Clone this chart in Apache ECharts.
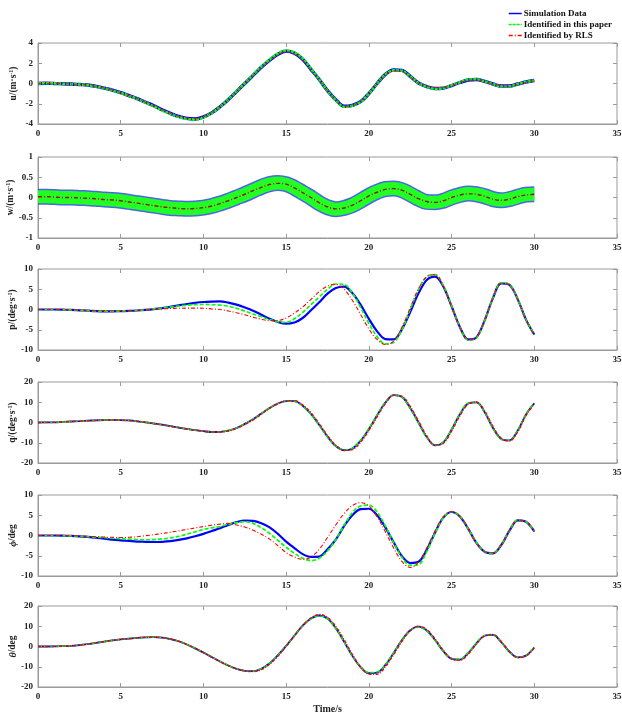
<!DOCTYPE html>
<html>
<head>
<meta charset="utf-8">
<script src="https://cdn.jsdelivr.net/npm/echarts@6/dist/echarts.min.js"></script>
<style>
  html, body { margin: 0; padding: 0; background: #fff; }
  #main { width: 622px; height: 713px; }
</style>
</head>
<body>
<div id="main"></div>
<script>
// time samples (s)
const T = [0, 0.5, 1, 1.5, 2, 2.5, 3, 3.5, 4, 4.5,
  5, 5.5, 6, 6.5, 7, 7.5, 8, 8.5, 9, 9.5,
  10, 10.5, 11, 11.5, 12, 12.5, 13, 13.5, 14, 14.5,
  15, 15.5, 16, 16.5, 17, 17.5, 18, 18.5, 19, 19.5,
  20, 20.5, 21, 21.5, 22, 22.5, 23, 23.5, 24, 24.5,
  25, 25.5, 26, 26.5, 27, 27.5, 28, 28.5, 29, 29.5,
  30];

// u
const uSim = [0, 0.02, 0, -0.02, -0.05, -0.1, -0.15, -0.28, -0.45, -0.65,
  -0.9, -1.2, -1.5, -1.85, -2.2, -2.6, -2.95, -3.25, -3.45, -3.5,
  -3.3, -2.9, -2.3, -1.6, -0.8, 0, 0.8, 1.6, 2.3, 2.9,
  3.2, 3.0, 2.4, 1.4, 0.4, -0.7, -1.6, -2.25, -2.15, -1.8,
  -1.0, 0, 0.9, 1.35, 1.3, 0.7, 0.05, -0.3, -0.5, -0.45,
  -0.2, 0.1, 0.35, 0.4, 0.2, -0.05, -0.25, -0.25, -0.05, 0.15,
  0.3];
const uPaper = [0, 0.03, 0.01, -0.02, -0.06, -0.1, -0.16, -0.3, -0.47, -0.68,
  -0.92, -1.22, -1.52, -1.88, -2.25, -2.65, -3.0, -3.3, -3.5, -3.55,
  -3.35, -2.92, -2.3, -1.58, -0.78, 0.02, 0.85, 1.65, 2.35, 2.95,
  3.25, 3.05, 2.45, 1.45, 0.4, -0.72, -1.65, -2.3, -2.2, -1.8,
  -1.0, 0, 0.9, 1.3, 1.25, 0.7, 0.05, -0.32, -0.52, -0.45,
  -0.18, 0.12, 0.38, 0.42, 0.2, -0.06, -0.27, -0.27, -0.05, 0.15,
  0.3];
const uRls = [0, 0.01, 0, -0.02, -0.05, -0.1, -0.15, -0.28, -0.45, -0.65,
  -0.9, -1.2, -1.5, -1.85, -2.2, -2.6, -2.95, -3.25, -3.42, -3.45,
  -3.28, -2.88, -2.3, -1.6, -0.8, 0, 0.8, 1.58, 2.28, 2.85,
  3.15, 2.95, 2.35, 1.35, 0.35, -0.75, -1.65, -2.25, -2.2, -1.75,
  -0.95, 0, 0.85, 1.25, 1.2, 0.65, 0.05, -0.25, -0.4, -0.4,
  -0.2, 0.1, 0.3, 0.35, 0.2, -0.05, -0.2, -0.25, -0.05, 0.1,
  0.25];

// w
const wSim = [0.02, 0.02, 0.01, 0, 0, -0.01, -0.02, -0.03, -0.05, -0.06,
  -0.08, -0.11, -0.14, -0.17, -0.2, -0.23, -0.26, -0.27, -0.28, -0.27,
  -0.25, -0.21, -0.15, -0.08, 0, 0.08, 0.17, 0.26, 0.33, 0.36,
  0.33, 0.24, 0.12, 0, -0.14, -0.24, -0.29, -0.26, -0.19, -0.08,
  0.04, 0.14, 0.21, 0.22, 0.18, 0.08, -0.03, -0.11, -0.12, -0.08,
  0, 0.06, 0.1, 0.08, 0.03, -0.04, -0.07, -0.04, 0.02, 0.07,
  0.08];
const wPaper = [0.02, 0.02, 0.01, 0, 0, -0.01, -0.02, -0.03, -0.05, -0.06,
  -0.08, -0.11, -0.14, -0.17, -0.2, -0.23, -0.26, -0.27, -0.28, -0.27,
  -0.25, -0.21, -0.15, -0.08, 0, 0.08, 0.17, 0.26, 0.33, 0.36,
  0.33, 0.24, 0.12, 0, -0.14, -0.24, -0.29, -0.26, -0.19, -0.08,
  0.04, 0.14, 0.21, 0.22, 0.18, 0.08, -0.03, -0.11, -0.12, -0.08,
  0, 0.06, 0.1, 0.08, 0.03, -0.04, -0.07, -0.04, 0.02, 0.07,
  0.08];
const wRls = [0.02, 0.02, 0.01, 0, 0, -0.01, -0.02, -0.03, -0.05, -0.06,
  -0.08, -0.11, -0.14, -0.17, -0.2, -0.23, -0.25, -0.27, -0.28, -0.27,
  -0.25, -0.21, -0.15, -0.08, 0, 0.08, 0.17, 0.25, 0.32, 0.35,
  0.33, 0.24, 0.12, 0, -0.13, -0.23, -0.28, -0.26, -0.19, -0.08,
  0.04, 0.13, 0.2, 0.22, 0.18, 0.08, -0.03, -0.1, -0.12, -0.08,
  0, 0.06, 0.09, 0.08, 0.03, -0.04, -0.07, -0.04, 0.02, 0.06,
  0.08];

// p
const pSim = [0, 0, 0, -0.05, -0.1, -0.2, -0.3, -0.4, -0.45, -0.45,
  -0.4, -0.35, -0.25, -0.1, 0.1, 0.35, 0.65, 1.0, 1.35, 1.65,
  1.85, 1.95, 2.0, 1.7, 1.2, 0.5, -0.3, -1.3, -2.3, -3.1,
  -3.5, -3.2, -2.1, -0.2, 1.8, 3.9, 5.3, 5.65, 4.1, 1.2,
  -2.3, -5.4, -7.3, -7.4, -4.9, -0.6, 4.0, 7.3, 8.1, 5.7,
  0.8, -4.3, -7.4, -6.9, -2.7, 2.8, 6.45, 6.1, 2.5, -2.5,
  -6.2];
const pPaper = [0, 0, 0, -0.05, -0.1, -0.2, -0.3, -0.35, -0.4, -0.4,
  -0.35, -0.3, -0.2, -0.05, 0.15, 0.35, 0.6, 0.85, 1.05, 1.2,
  1.25, 1.2, 1.1, 0.8, 0.3, -0.4, -1.1, -1.8, -2.5, -3.0,
  -3.2, -2.3, -0.7, 1.2, 3.1, 5.0, 6.3, 6.2, 4.1, 0.5,
  -3.4, -6.7, -8.5, -8.1, -5.0, 0, 4.9, 8.1, 8.6, 5.9,
  0.9, -4.3, -7.5, -7.0, -2.8, 2.9, 6.6, 6.2, 2.5, -2.5,
  -6.2];
const pRls = [0, 0, 0, -0.03, -0.07, -0.12, -0.18, -0.23, -0.27, -0.3,
  -0.3, -0.27, -0.2, -0.1, 0.05, 0.15, 0.25, 0.3, 0.35, 0.35,
  0.3, 0.15, 0, -0.35, -0.8, -1.3, -1.9, -2.4, -2.75, -2.7,
  -2.1, -0.9, 0.6, 2.5, 4.4, 5.8, 6.2, 5.0, 2.3, -1.2,
  -4.8, -7.4, -8.65, -7.8, -4.4, 0.4, 5.1, 8.1, 8.6, 5.8,
  0.8, -4.4, -7.5, -6.9, -2.7, 2.9, 6.5, 6.1, 2.4, -2.6,
  -6.3];

// q
const qSim = [0, 0.05, 0.1, 0.3, 0.5, 0.7, 0.9, 1.05, 1.2, 1.25,
  1.2, 1.0, 0.6, 0.1, -0.5, -1.1, -1.8, -2.5, -3.2, -3.8,
  -4.3, -4.7, -4.6, -4.0, -2.7, -0.7, 1.6, 4.4, 7.2, 9.4,
  10.6, 10.6, 8.3, 4.2, -1.2, -7.0, -11.6, -13.7, -12.9, -9.0,
  -3.2, 3.6, 9.9, 13.5, 12.6, 7.2, 0, -7.2, -11.3, -9.8,
  -3.5, 4.1, 9.4, 9.9, 5.1, -2.7, -8.1, -8.8, -4.0, 4.0,
  9.5];
const qPaper = [0, 0.05, 0.1, 0.3, 0.5, 0.7, 0.9, 1.05, 1.2, 1.25,
  1.2, 1.0, 0.6, 0.1, -0.5, -1.1, -1.8, -2.5, -3.2, -3.8,
  -4.3, -4.7, -4.6, -4.0, -2.7, -0.7, 1.6, 4.4, 7.2, 9.3,
  10.5, 10.4, 8.1, 4.0, -1.4, -7.1, -11.6, -13.5, -12.7, -8.8,
  -3.0, 3.7, 10.0, 13.5, 12.5, 7.0, -0.2, -7.3, -11.3, -9.7,
  -3.4, 4.2, 9.5, 9.9, 5.0, -2.8, -8.2, -8.8, -3.9, 4.1,
  9.5];
const qRls = [0, 0.05, 0.1, 0.3, 0.5, 0.7, 0.9, 1.05, 1.2, 1.25,
  1.2, 1.0, 0.6, 0.1, -0.5, -1.1, -1.8, -2.5, -3.2, -3.8,
  -4.3, -4.7, -4.7, -4.2, -3.0, -1.0, 1.3, 4.1, 7.0, 9.3,
  10.7, 10.8, 8.7, 4.8, -0.6, -6.4, -11.2, -13.7, -13.4, -9.8,
  -4.0, 2.8, 9.3, 13.4, 13.0, 7.9, 0.8, -6.6, -11.1, -10.3,
  -4.3, 3.3, 9.0, 10.1, 5.8, -2.0, -7.8, -9.1, -4.6, 3.4,
  9.2];

// phi
const phiSim = [0, 0, 0, -0.05, -0.1, -0.2, -0.35, -0.55, -0.8, -1.0,
  -1.2, -1.35, -1.5, -1.55, -1.6, -1.55, -1.4, -1.1, -0.7, -0.2,
  0.4, 1.1, 1.8, 2.6, 3.3, 3.7, 3.6, 3.0, 2.0, 0.4,
  -1.5, -3.1, -4.6, -5.3, -5.2, -3.4, -1.0, 2.3, 5.0, 6.5,
  6.6, 5.0, 2.0, -1.7, -5.1, -6.8, -6.5, -3.5, 0.7, 4.4,
  5.8, 4.7, 1.7, -1.8, -4.0, -4.4, -2.4, 1.2, 3.75, 3.4,
  1.0];
const phiPaper = [0, 0, 0, -0.05, -0.1, -0.18, -0.28, -0.4, -0.5, -0.65,
  -0.8, -0.9, -1.0, -1.05, -1.0, -0.85, -0.6, -0.2, 0.3, 0.9,
  1.5, 1.9, 2.2, 2.8, 3.2, 3.4, 3.0, 1.9, 0.5, -1.2,
  -2.9, -4.4, -5.6, -6.2, -5.6, -3.8, -1.0, 2.5, 5.6, 7.3,
  7.5, 5.8, 2.3, -1.8, -5.4, -7.4, -7.2, -4.0, 0.6, 4.4,
  5.9, 4.8, 1.7, -1.8, -4.0, -4.4, -2.3, 1.3, 3.8, 3.4,
  1.0];
const phiRls = [0, 0, 0, 0, -0.05, -0.1, -0.2, -0.3, -0.4, -0.45,
  -0.5, -0.45, -0.3, -0.05, 0.2, 0.5, 0.8, 1.15, 1.5, 1.85,
  2.2, 2.55, 2.8, 3.0, 2.6, 2.1, 1.3, 0.3, -0.9, -2.5,
  -4.2, -5.3, -5.9, -5.3, -3.4, -0.5, 2.6, 5.4, 7.4, 8.1,
  7.3, 4.6, 0.9, -3.1, -6.4, -7.9, -6.6, -3.1, 1.1, 4.6,
  5.9, 4.8, 1.7, -1.9, -4.0, -4.3, -2.2, 1.3, 3.8, 3.4,
  0.9];

// theta
const thetaSim = [0, 0, 0.05, 0.15, 0.35, 0.7, 1.2, 1.8, 2.4, 3.0,
  3.5, 3.9, 4.3, 4.5, 4.6, 4.4, 3.7, 2.6, 1.0, -0.9,
  -3.0, -5.2, -7.4, -9.4, -11.0, -12.0, -12.2, -11.0, -8.3, -4.3,
  0.3, 5.4, 10.3, 13.8, 15.3, 13.8, 9.0, 2.4, -4.6, -10.2,
  -13.2, -12.9, -9.1, -3.2, 3.2, 8.0, 9.8, 7.9, 3.2, -2.3,
  -6.1, -6.5, -3.3, 1.6, 5.3, 5.7, 2.2, -2.6, -5.4, -4.5,
  -0.5];
const thetaPaper = [0, 0, 0.05, 0.15, 0.35, 0.7, 1.2, 1.8, 2.4, 3.0,
  3.5, 3.9, 4.3, 4.5, 4.6, 4.4, 3.7, 2.6, 1.0, -0.9,
  -3.0, -5.2, -7.4, -9.4, -11.0, -12.0, -12.2, -11.0, -8.3, -4.3,
  0.2, 5.3, 10.1, 13.6, 15.1, 13.6, 8.9, 2.4, -4.5, -10.0,
  -12.9, -12.6, -8.9, -3.1, 3.1, 7.8, 9.6, 7.8, 3.1, -2.3,
  -5.9, -6.3, -3.1, 1.7, 5.4, 5.8, 2.2, -2.7, -5.4, -4.4,
  -0.4];
const thetaRls = [0, 0, 0.05, 0.15, 0.35, 0.7, 1.2, 1.8, 2.4, 3.0,
  3.5, 3.9, 4.3, 4.5, 4.6, 4.4, 3.7, 2.6, 1.0, -0.9,
  -3.0, -5.2, -7.4, -9.4, -11.0, -12.0, -12.4, -11.4, -8.8, -4.8,
  0, 5.2, 10.3, 14.1, 15.8, 14.5, 9.9, 3.4, -3.9, -10.0,
  -13.6, -13.7, -10.0, -4.0, 2.6, 7.8, 10.0, 8.4, 3.8, -1.9,
  -6.0, -6.8, -3.8, 1.2, 5.2, 5.9, 2.5, -2.4, -5.4, -4.7,
  -0.8];

const legendNames = ['Simulation Data', 'Identified in this paper', 'Identified by RLS'];
const xTicks = { min: 0, max: 35, interval: 5 };

const font = "'Liberation Serif', 'Times New Roman', serif";
const frameColor = '#9a9a9a';

var panels = [
  { label: '{t|u/(m·s}{s|-1}{t|)}', min: -4, max: 4, interval: 2, data: [uSim, uPaper, uRls], kind: 'u', gap: 18 },
  { label: '{t|w/(m·s}{s|-1}{t|)}', min: -1, max: 1, interval: 0.5, data: [wSim, wPaper, wRls], kind: 'w', gap: 21 },
  { label: '{t|p/(deg·s}{s|-1}{t|)}', min: -10, max: 10, interval: 5, data: [pSim, pPaper, pRls], kind: 'big', gap: 19 },
  { label: '{t|q/(deg·s}{s|-1}{t|)}', min: -20, max: 20, interval: 10, data: [qSim, qPaper, qRls], kind: 'thin', gap: 19 },
  { label: '{i|ϕ}{t|/deg}', min: -10, max: 10, interval: 5, data: [phiSim, phiPaper, phiRls], kind: 'big', gap: 19 },
  { label: '{i|θ}{t|/deg}', min: -20, max: 20, interval: 10, data: [thetaSim, thetaPaper, thetaRls], kind: 'thin', gap: 19 }
];
var tops = [43, 157, 269, 382, 495, 606];
var plotHeight = 81;

// line looks per panel kind: [sim, paper, rls]
var looks = {
  u: [
    { color: '#0000ff', width: 3.4, type: 'solid', opacity: 1 },
    { color: '#00ff00', width: 2.6, type: [3, 1], opacity: 1 },
    { color: '#ff0000', width: 1, type: [4, 2, 1, 2], opacity: 1 }
  ],
  w: [
    { color: '#1030e0', width: 16, type: 'solid', opacity: 0.75 },
    { color: '#22ff22', width: 13, type: 'solid', opacity: 1 },
    { color: '#a01010', width: 1.4, type: [4, 2, 1, 2], opacity: 1 }
  ],
  big: [
    { color: '#0000ff', width: 2.2, type: 'solid', opacity: 1 },
    { color: '#00ff00', width: 1.7, type: [4, 2], opacity: 1 },
    { color: '#ff0000', width: 1.1, type: [4, 2, 1, 2], opacity: 1 }
  ],
  thin: [
    { color: '#0000ff', width: 1.8, type: 'solid', opacity: 1 },
    { color: '#00ee00', width: 1.6, type: [4, 2], opacity: 1 },
    { color: '#ff0000', width: 1.4, type: [3, 1.5, 1, 1.5], opacity: 1 }
  ]
};

var grids = [], xAxes = [], yAxes = [], series = [];
var tickLabel = { fontFamily: font, fontWeight: 'bold', fontSize: 9, color: '#222' };
var tickStyle = { show: true, inside: true, length: 4, lineStyle: { color: frameColor } };

panels.forEach(function (p, i) {
  grids.push({
    left: 38, right: 5, top: tops[i], height: plotHeight, outerBoundsMode: 'none',
    show: true, borderColor: frameColor, borderWidth: 1
  });
  var last = i === panels.length - 1;
  xAxes.push({
    type: 'value', gridIndex: i, min: xTicks.min, max: xTicks.max, interval: xTicks.interval,
    axisLine: { show: true, onZero: false, lineStyle: { color: frameColor } },
    axisTick: tickStyle, splitLine: { show: false },
    axisLabel: Object.assign({ margin: 5 }, tickLabel),
    name: last ? 'Time/s' : '', nameLocation: 'middle', nameGap: 17, nameMoveOverlap: false,
    nameTextStyle: { fontFamily: font, fontWeight: 'bold', fontSize: 10, color: '#222' }
  });
  yAxes.push({
    type: 'value', gridIndex: i, min: p.min, max: p.max, interval: p.interval,
    axisLine: { show: true, onZero: false, lineStyle: { color: frameColor } },
    axisTick: tickStyle, splitLine: { show: false },
    axisLabel: Object.assign({ margin: 5 }, tickLabel),
    name: p.label, nameLocation: 'middle', nameGap: p.gap, nameMoveOverlap: false,
    nameTextStyle: {
      rich: {
        t: { fontFamily: font, fontWeight: 'bold', fontSize: 9.5, color: '#222', lineHeight: 12 },
        i: { fontFamily: font, fontWeight: 'bold', fontStyle: 'italic', fontSize: 10, color: '#222', lineHeight: 12 },
        s: { fontFamily: font, fontWeight: 'bold', fontSize: 6, color: '#222', lineHeight: 6, verticalAlign: 'top' }
      }
    }
  });
  p.data.forEach(function (arr, k) {
    var lk = looks[p.kind][k];
    series.push({
      name: legendNames[k], type: 'line', xAxisIndex: i, yAxisIndex: i,
      data: T.map(function (t, j) { return [t, arr[j]]; }),
      symbol: 'none', smooth: 0.35, silent: true, z: 2 + k,
      lineStyle: { color: lk.color, width: lk.width, type: lk.type, opacity: lk.opacity },
      itemStyle: { color: lk.color }
    });
  });
});

// top and right axes for the inward box ticks
panels.forEach(function (p, i) {
  xAxes.push({
    type: 'value', gridIndex: i, position: 'top', min: xTicks.min, max: xTicks.max, interval: xTicks.interval,
    axisLine: { show: false, onZero: false }, axisTick: tickStyle, axisLabel: { show: false }, splitLine: { show: false }
  });
  yAxes.push({
    type: 'value', gridIndex: i, position: 'right', min: p.min, max: p.max, interval: p.interval,
    axisLine: { show: false, onZero: false }, axisTick: tickStyle, axisLabel: { show: false }, splitLine: { show: false }
  });
});

var option = {
  backgroundColor: '#fff',
  animation: false,
  legend: {
    data: legendNames, orient: 'vertical', right: 5, top: 4,
    itemWidth: 13, itemHeight: 6, itemGap: 2, align: 'left',
    lineStyle: { width: 1.5, opacity: 1 },
    itemStyle: { opacity: 0 },
    textStyle: { fontFamily: font, fontWeight: 'bold', fontSize: 9, color: '#111', padding: [0, 0, 0, -3] }
  },
  grid: grids,
  xAxis: xAxes,
  yAxis: yAxes,
  series: series
};

var chart = echarts.init(document.getElementById('main'));
chart.setOption(option);
</script>
</body>
</html>
